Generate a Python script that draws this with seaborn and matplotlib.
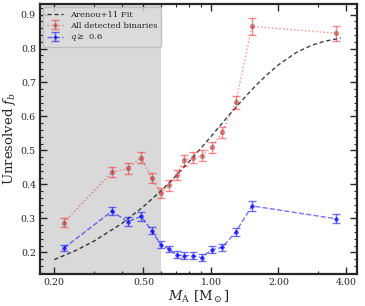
import matplotlib
matplotlib.use("Agg")
import matplotlib.pyplot as plt
import matplotlib.ticker as mticker
import numpy as np
import pandas as pd
import seaborn as sns

# primary mass bins [Msun]
mass = [0.221, 0.361, 0.425, 0.489, 0.544, 0.597, 0.650, 0.703,
        0.758, 0.829, 0.909, 1.007, 1.123, 1.289, 1.524, 3.62]

# unresolved binary fraction, all detected binaries
fb_all = [0.288, 0.436, 0.447, 0.479, 0.418, 0.375, 0.397, 0.429,
          0.471, 0.479, 0.484, 0.509, 0.553, 0.642, 0.865, 0.845]
err_all = [0.013, 0.015, 0.015, 0.016, 0.015, 0.015, 0.015, 0.015,
           0.016, 0.016, 0.016, 0.016, 0.017, 0.019, 0.025, 0.022]

# unresolved binary fraction, q >= 0.6
fb_q = [0.213, 0.321, 0.291, 0.306, 0.264, 0.223, 0.210, 0.193,
        0.190, 0.191, 0.185, 0.208, 0.215, 0.260, 0.337, 0.299]
err_q = [0.010, 0.012, 0.012, 0.012, 0.011, 0.010, 0.010, 0.010,
         0.010, 0.010, 0.010, 0.010, 0.010, 0.012, 0.014, 0.013]

# Arenou+11 fit
fit_mass = [0.2, 0.25, 0.3, 0.4, 0.5, 0.6, 0.7, 0.8, 0.9, 1.0,
            1.2, 1.4, 1.6, 1.8, 2.0, 2.4, 2.8, 3.2, 3.8]
fit_fb = [0.179, 0.206, 0.233, 0.285, 0.335, 0.382, 0.426, 0.468, 0.506, 0.541,
          0.603, 0.653, 0.694, 0.726, 0.752, 0.788, 0.809, 0.821, 0.831]

xticks = [0.2, 0.5, 1.0, 2.0, 4.0]
mass_cut = 0.6

sns.set_style("ticks")
plt.rcParams["font.family"] = ["DejaVu Serif"]
plt.rcParams["mathtext.fontset"] = "dejavuserif"

fig = plt.figure(figsize=(3.65, 3.06), dpi=100)
ax = fig.add_axes([0.110, 0.105, 0.868, 0.882])
ax.set_xscale("log")

ax.axvspan(0.1, mass_cut, color="#d9d9d9", zorder=0, lw=0)

fit = pd.DataFrame({"m": fit_mass, "fb": fit_fb})
sns.lineplot(data=fit, x="m", y="fb", ax=ax, color="black", alpha=0.75,
             linestyle=(0, (3, 2)), lw=1.0, label="Arenou+11 Fit", zorder=3)

ax.errorbar(mass, fb_all, yerr=err_all, fmt="o", ls=":", color="red", alpha=0.45,
            ms=3, lw=1.0, capsize=3, elinewidth=1.0, mec="dimgray", mfc="red",
            label="All detected binaries", zorder=4)
ax.errorbar(mass, fb_q, yerr=err_q, fmt="D", ls="--", color="blue", alpha=0.55,
            ms=2, lw=1.0, capsize=3, elinewidth=1.0, mec="blue", mfc="blue",
            label=r"$q \geq$ 0.6", zorder=4)

ax.set_xlim(0.173, 4.48)
ax.set_ylim(0.137, 0.931)

ax.xaxis.set_major_locator(mticker.FixedLocator(xticks))
ax.xaxis.set_major_formatter(mticker.FormatStrFormatter("%.2f"))
ax.xaxis.set_minor_locator(mticker.LogLocator(base=10, subs=np.arange(2, 10)))
ax.xaxis.set_minor_formatter(mticker.NullFormatter())
ax.yaxis.set_major_locator(mticker.MultipleLocator(0.1))
ax.yaxis.set_minor_locator(mticker.MultipleLocator(0.02))
ax.yaxis.set_major_formatter(mticker.FormatStrFormatter("%.1f"))

ax.tick_params(which="both", direction="in", top=True, right=True, labelsize=6.8)
ax.tick_params(which="major", length=5, width=1.0, pad=3)
ax.tick_params(which="minor", length=2.5, width=0.8)
for s in ax.spines.values():
    s.set_linewidth(1.6)

ax.set_xlabel(r"$M_{\rm A}$ [M$_\odot$]", fontsize=9.5, labelpad=1)
ax.set_ylabel(r"Unresolved $f_b$", fontsize=9.5, labelpad=2)

leg = ax.legend(loc="upper left", fontsize=6, frameon=True, handlelength=2.0,
                borderaxespad=0.4, labelspacing=0.35, markerscale=0.8)
leg.get_frame().set_facecolor("#dcdcdc")
leg.get_frame().set_edgecolor("#b8b8b8")

fig.savefig("out.png", dpi=100)
